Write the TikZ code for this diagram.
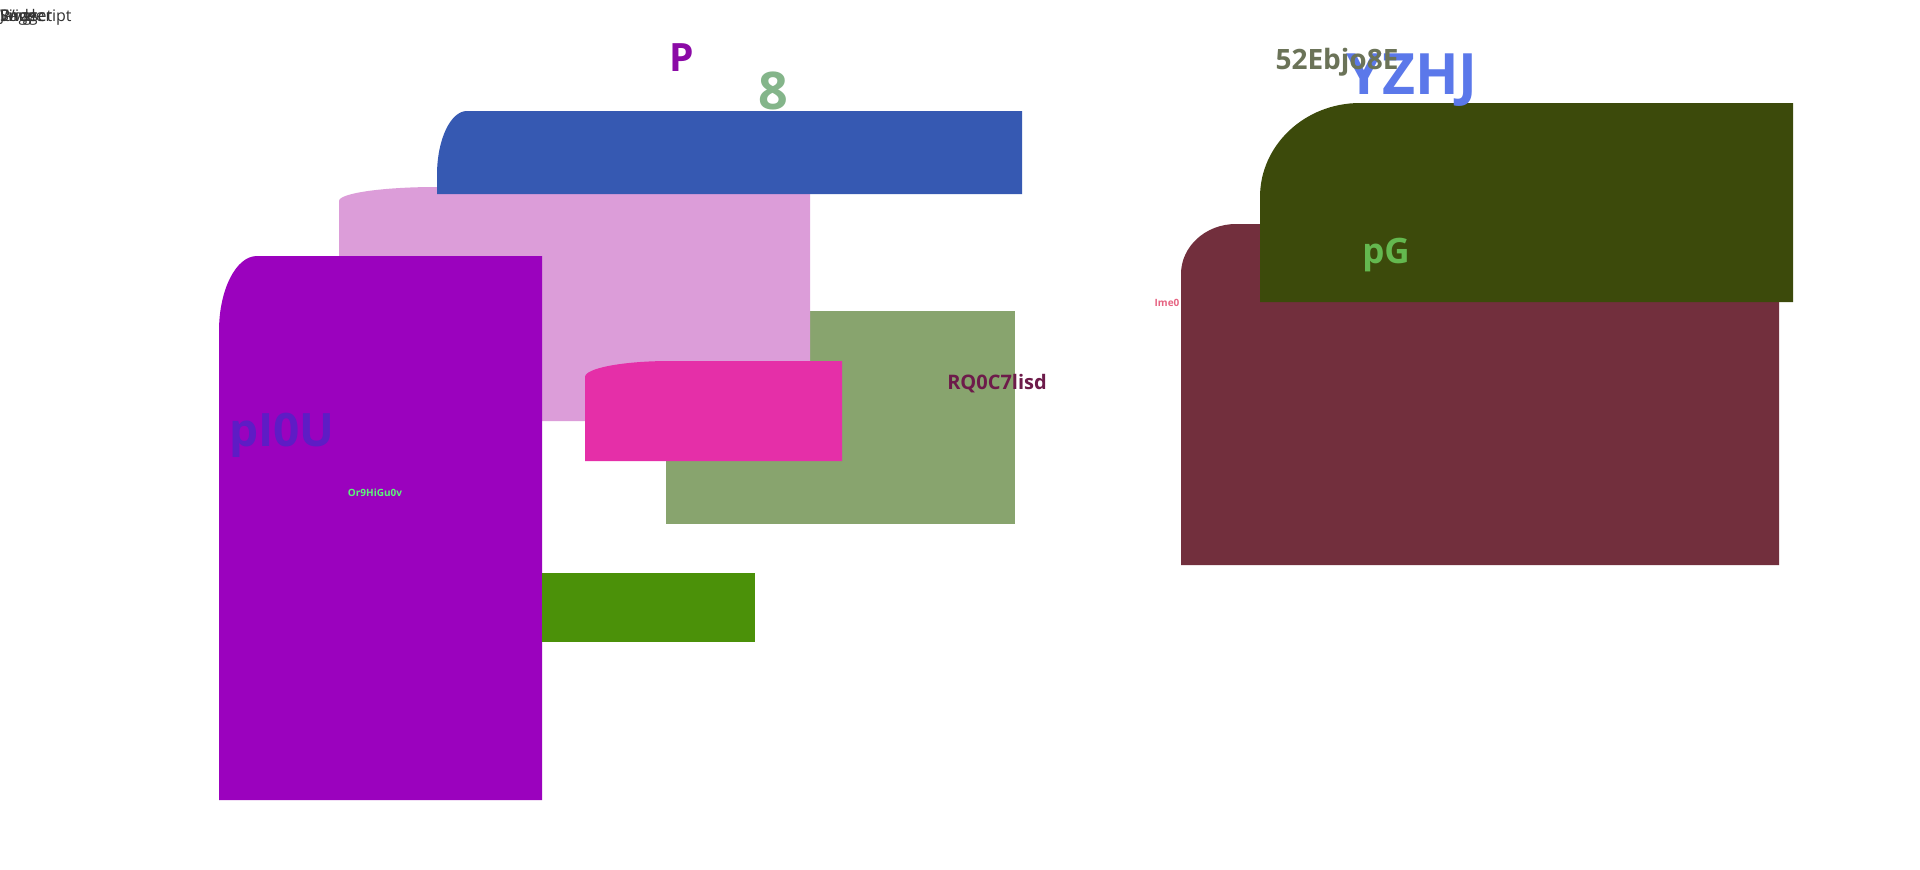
\documentclass[tikz,border=0pt]{standalone}
\usepackage{fontspec}
\setmainfont{Open Sans}
\definecolor{cblue}{RGB}{54,89,178}
\definecolor{cplum}{RGB}{220,157,217}
\definecolor{cpurple}{RGB}{155,2,190}
\definecolor{cgreen}{RGB}{136,164,110}
\definecolor{cmagenta}{RGB}{229,47,168}
\definecolor{cbar}{RGB}{75,145,9}
\definecolor{cmaroon}{RGB}{114,47,61}
\definecolor{colive}{RGB}{60,74,11}
\definecolor{tP}{RGB}{139,10,166}
\definecolor{teight}{RGB}{132,181,138}
\definecolor{tcode}{RGB}{107,115,88}
\definecolor{tyz}{RGB}{91,120,234}
\definecolor{tpg}{RGB}{100,184,79}
\definecolor{time}{RGB}{230,100,130}
\definecolor{trq}{RGB}{109,27,74}
\definecolor{tpi}{RGB}{94,28,197}
\definecolor{tor}{RGB}{94,242,122}
\definecolor{ttop}{RGB}{51,51,51}
% colour, x1, y1, x2, y2, rx, ry : box with an elliptical top-left corner
\newcommand\tlfill[7]{%
  \fill[#1] (#2,#5) -- ({#2},{#3+#7}) .. controls ({#2},{#3+0.448*#7}) and ({#2+0.448*#6},{#3}) .. ({#2+#6},{#3}) -- (#4,#3) -- (#4,#5) -- cycle;}
\newcommand\fsz[1]{\fontsize{#1pt}{#1pt}\selectfont}
\tikzset{
  lbl/.style={inner sep=0pt, anchor=base},
  toptxt/.style={inner sep=0pt, anchor=base west, text=ttop, font=\fsz{16}},
}
\begin{document}
\begin{tikzpicture}[x=1pt,y=-1pt]
\useasboundingbox (0,0) rectangle (1920,870);
\fill[white] (0,0) rectangle (1920,870);
% left group
\fill[cgreen] (666,311) rectangle (1015,524);
\tlfill{cplum}{339}{187}{810}{421}{97}{14}
\tlfill{cblue}{437}{111}{1022}{194}{30}{64}
\tlfill{cpurple}{219}{256}{542}{800}{38}{75}
\tlfill{cmagenta}{585}{361}{842}{461}{85}{16}
\fill[cbar] (542,573) rectangle (755,642);
% right group
\tlfill{cmaroon}{1181}{224}{1779}{565}{55}{50}
\tlfill{colive}{1260}{103}{1793}{302}{100}{94}
% texts
\node[toptxt] (t1) at (0,21) {Javascript};
\node[toptxt] (t2) at (0,21) {Single};
\node[toptxt] (t3) at (0,21) {Widget};
\node[toptxt] (t4) at (0,21) {Page};
\node[lbl, text=tP, font=\bfseries\fsz{39}] (p) at (682,71) {P};
\node[lbl, text=teight, font=\bfseries\fsz{52}] (eight) at (773,109) {8};
\node[lbl, text=tyz, font=\bfseries\fsz{57}] (yzhj) at (1412,94) {YZHJ};
\node[lbl, text=tcode, font=\bfseries\fsz{28}] (code) at (1337,69) {52Ebjo8E};
\node[lbl, text=tpg, font=\bfseries\fsz{35}] (pg) at (1386,263) {pG};
\node[lbl, text=time, font=\bfseries\fsz{10}] (ime) at (1167,306) {Ime0};
\node[lbl, text=trq, font=\bfseries\fsz{20}] (rq) at (997,389) {RQ0C7lisd};
\node[lbl, text=tpi, font=\bfseries\fsz{46}] (pi) at (282,446) {pI0U};
\node[lbl, text=tor, font=\bfseries\fsz{10}] (or) at (375,496) {Or9HiGu0v};
\end{tikzpicture}
\end{document}
